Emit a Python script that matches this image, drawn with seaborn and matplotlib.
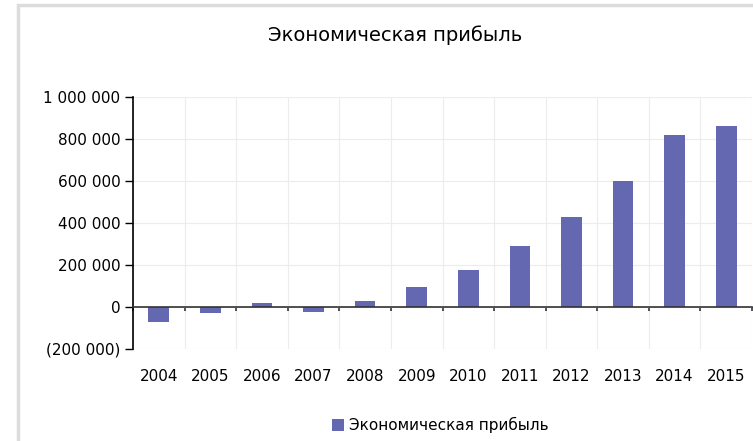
import matplotlib
matplotlib.use('Agg')
import matplotlib.pyplot as plt
from matplotlib.ticker import FuncFormatter, MultipleLocator, FixedLocator
from matplotlib.patches import Rectangle
import seaborn as sns
import pandas as pd

# --- data ---
years = ['2004', '2005', '2006', '2007', '2008', '2009',
         '2010', '2011', '2012', '2013', '2014', '2015']
profit = [-76000, -31000, 16000, -27000, 27000, 94000,
          175000, 287000, 426000, 599000, 818000, 862000]
series_name = 'Экономическая прибыль'
title = 'Экономическая прибыль'

bar_color = '#6368b0'

df = pd.DataFrame({'year': years, 'value': profit})

sns.set_style('white')
plt.rcParams['font.family'] = ['DejaVu Sans']
plt.rcParams['text.color'] = 'black'
plt.rcParams['xtick.labelcolor'] = 'black'
plt.rcParams['ytick.labelcolor'] = 'black'

W, H = 753, 441
fig = plt.figure(figsize=(W / 100, H / 100), dpi=100)

# outer chart frame (light grey, cut by the image edges)
fig.patches.append(Rectangle((18 / W, -0.05), 1.2, 1 - 5 / H + 0.05,
                             transform=fig.transFigure, fill=False,
                             edgecolor='#dcdcdc', linewidth=2.5, zorder=0))

left, right = 133 / W, 752 / W
top, bottom = 1 - 96.7 / H, 1 - 348.5 / H
ax = fig.add_axes([left, bottom, right - left, top - bottom])

sns.barplot(data=df, x='year', y='value', color=bar_color, width=0.4,
            saturation=1, linewidth=0, ax=ax, label=series_name, zorder=3)

ax.set_xlim(-0.5, len(years) - 0.5)
ax.set_ylim(-200000, 1000000)

# y axis
ax.yaxis.set_major_locator(MultipleLocator(200000))


def fmt(v, pos):
    s = f'{abs(int(round(v))):,}'.replace(',', ' ')
    return f'({s})' if v < 0 else s


ax.yaxis.set_major_formatter(FuncFormatter(fmt))
ax.tick_params(axis='y', which='major', direction='out', length=6,
               width=1, color='black', labelsize=11, pad=3, left=True)

# x axis: spine on zero line, ticks at category boundaries
ax.spines['bottom'].set_position(('data', 0))
ax.spines['bottom'].set_color('#333333')
ax.spines['bottom'].set_linewidth(1.2)
ax.spines['bottom'].set_zorder(4)
ax.spines['left'].set_color('black')
ax.spines['left'].set_linewidth(1.2)
ax.spines['top'].set_visible(False)
ax.spines['right'].set_visible(False)

ax.xaxis.set_minor_locator(FixedLocator([i + 0.5 for i in range(-1, len(years))]))
ax.tick_params(axis='x', which='major', length=0, labelsize=11, pad=45)
ax.tick_params(axis='x', which='minor', direction='out', length=3,
               width=1.2, color='#333333', bottom=True)

ax.grid(True, axis='y', which='major', color='#ececec', linewidth=0.8, zorder=0)
ax.grid(True, axis='x', which='minor', color='#ececec', linewidth=0.8, zorder=0)
ax.set_axisbelow(True)
ax.set_xlabel('')
ax.set_ylabel('')

fig.text(395 / W, 1 - 35 / H, title, ha='center', va='center', fontsize=14)

leg = ax.legend(loc='center', bbox_to_anchor=(440 / W, 1 - 425 / H),
                bbox_transform=fig.transFigure, frameon=False, fontsize=11,
                handlelength=0.8, handleheight=0.8, handletextpad=0.3)

fig.savefig('out.png', dpi=100)
